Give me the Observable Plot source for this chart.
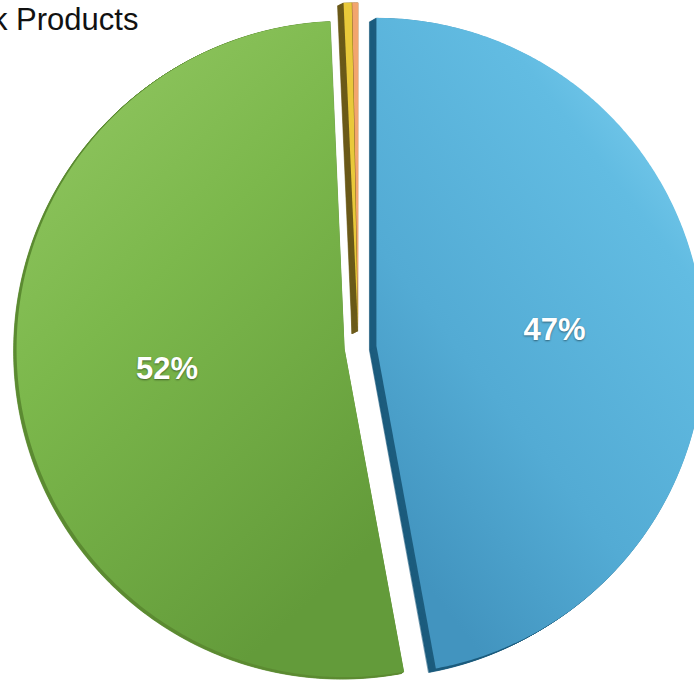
<!DOCTYPE html>
<html><head><meta charset="utf-8">
<script src="https://cdn.jsdelivr.net/npm/d3@7"></script>
<script src="https://cdn.jsdelivr.net/npm/@observablehq/plot@0.6"></script>
<style>
html,body{margin:0;padding:0;background:#fff;overflow:hidden;}
#wrap{position:relative;width:694px;height:682px;overflow:hidden;}
#title{position:absolute;left:-8px;top:4px;font:31px "Liberation Sans",Arial,sans-serif;color:#111;white-space:nowrap;line-height:1;z-index:2}
#chart svg text{text-shadow:0 1px 2px rgba(0,0,0,.45);}
</style></head><body>
<div id="wrap"><div id="title"></div><div id="chart"></div></div>
<script>
// ---- data ----
const titleText = "k Products";
const categories = ["Blue", "Green", "Yellow", "Orange"];
const values = [47.1, 52.2, 0.4, 0.3];

// ---- styles ----
const topFill = ["url(#gBlue)", "url(#gGreen)", "#e9c93a", "#f2a56e"];
const sideFill = ["#1d5d7e", "#5d8c33", "#6b5a1a", "#6b5a1a"];
const explode = [18, 14, 17, 17];
const R = 328;
const sideShift = [[-7, -4], [-3, -2], [-6, -3], [-6, -3]]; // px, down-left extrusion
const steps = 8;

document.getElementById("title").textContent = titleText;

const total = d3.sum(values);
const arcs = d3.pie().sort(null).value(d => d)(values);

function slicePoints(i, dx, dy) {
  const a = arcs[i];
  const mid = (a.startAngle + a.endAngle) / 2;
  const ox = explode[i] * Math.sin(mid) + dx;
  const oy = explode[i] * Math.cos(mid) + dy;
  const pts = [{x: ox, y: oy}];
  const n = Math.max(2, Math.ceil((a.endAngle - a.startAngle) / (Math.PI / 360)));
  for (let k = 0; k <= n; k++) {
    const t = a.startAngle + (a.endAngle - a.startAngle) * k / n;
    pts.push({x: ox + R * Math.sin(t), y: oy + R * Math.cos(t)});
  }
  return pts;
}

const sides = [], tops = [];
categories.forEach((c, i) => {
  for (let s = steps; s >= 1; s--) {
    const f = s / steps;
    slicePoints(i, sideShift[i][0] * f, sideShift[i][1] * f).forEach(p => sides.push({...p, key: c + s, fill: sideFill[i]}));
  }
  slicePoints(i, 0, 0).forEach(p => tops.push({...p, key: c, fill: topFill[i]}));
});

const labels = arcs.map((a, i) => {
  const mid = (a.startAngle + a.endAngle) / 2;
  const r = explode[i] + R * 0.545;
  return {x: r * Math.sin(mid), y: r * Math.cos(mid), text: Math.round(values[i] / total * 100) + "%", v: values[i]};
}).filter(d => d.v >= 5);

const svg = Plot.plot({
  width: 694, height: 682, margin: 0,
  x: {domain: [-358, 336], range: [0, 694], axis: null},
  y: {domain: [-335, 347], range: [682, 0], axis: null},
  color: {type: "identity"},
  style: {background: "transparent"},
  marks: [
    Plot.line(sides, {x: "x", y: "y", z: "key", fill: "fill", stroke: "fill", strokeWidth: 0.6, curve: "linear-closed"}),
    Plot.line(tops, {x: "x", y: "y", z: "key", fill: "fill", stroke: "none", curve: "linear-closed"}),
    Plot.text(labels, {x: "x", y: "y", text: "text", fill: "white", fontSize: 31, fontWeight: "bold", fontFamily: "Liberation Sans, Arial, sans-serif"})
  ]
});

const defs = d3.select(svg).insert("defs", ":first-child");
const gb = defs.append("linearGradient").attr("id", "gBlue").attr("x1", 1).attr("y1", 0).attr("x2", 0.35).attr("y2", 1);
[[0, "#8cd9f6"], [0.3, "#62bce2"], [0.7, "#53abd4"], [1, "#4294bf"]].forEach(([o, c]) => gb.append("stop").attr("offset", o).attr("stop-color", c));
const gg = defs.append("linearGradient").attr("id", "gGreen").attr("x1", 0).attr("y1", 0).attr("x2", 0.55).attr("y2", 1);
[[0, "#95c965"], [0.45, "#7cb84c"], [1, "#639b3a"]].forEach(([o, c]) => gg.append("stop").attr("offset", o).attr("stop-color", c));

document.getElementById("chart").appendChild(svg);
</script>
</body></html>
